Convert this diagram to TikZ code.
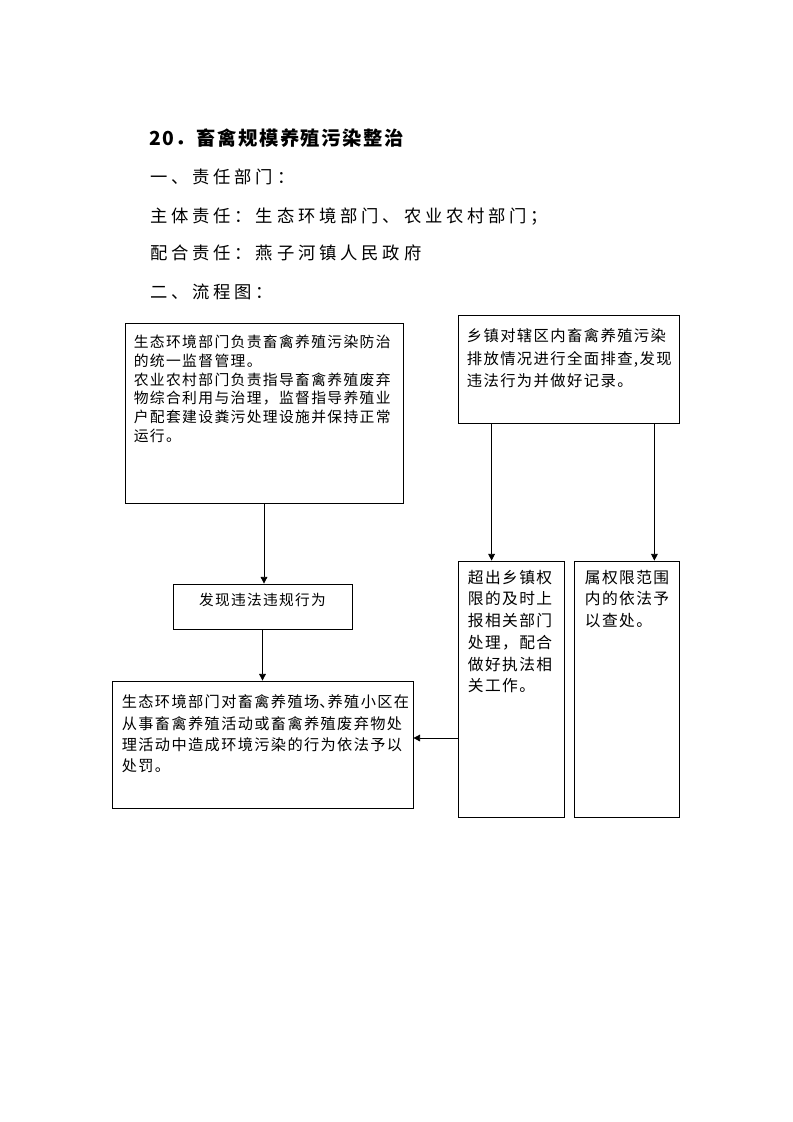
\documentclass[tikz,border=0pt]{standalone}
\usepackage{fontspec}
\setmainfont{Noto Sans CJK SC}[LetterSpace=9]
\newfontfamily\headfont{Noto Sans CJK SC}[LetterSpace=22]
\newfontfamily\titlefont{Noto Sans CJK SC}[LetterSpace=8]
\usepackage{tikz}
\usetikzlibrary{arrows.meta, calc, fit}

\begin{document}
\begin{tikzpicture}[x=0.75pt, y=-0.75pt,
    box/.style={draw, line width=0.6pt, inner sep=0pt},
    txt/.style={anchor=north west, align=left, inner sep=0pt},
    head/.style={anchor=west, inner sep=0pt, font=\headfont\fontsize{13pt}{15pt}\selectfont},
    arr/.style={-{Triangle[length=5pt, width=5pt]}, line width=0.6pt}]
  \useasboundingbox (0,0) rectangle (793,1122);

  \node[anchor=west, inner sep=0pt, font=\titlefont\bfseries\fontsize{14.5pt}{17pt}\selectfont] (title) at (149,138) {20．\kern1pt畜禽规模养殖污染整治};
  \node[head] (h1) at (150,177) {一、责任部门：};
  \node[head] (h2) at (150,217) {主体责任：生态环境部门、农业农村部门；};
  \node[head] (h3) at (150,253) {配合责任：燕子河镇人民政府};
  \node[head] (h4) at (150,292) {二、流程图：};

  \node[box, fit={(125,323) (403,503)}] (A) {};
  \node[box, fit={(458,315) (679,423)}] (B) {};
  \node[box, fit={(173,584) (352,629)}, font=\fontsize{11pt}{13pt}\selectfont] (C) {发现违法违规行为};
  \node[box, fit={(112,681) (413,808)}] (D) {};
  \node[box, fit={(458,561) (564,817)}] (E) {};
  \node[box, fit={(574,561) (679,817)}] (F) {};

  \node[txt, font=\fontsize{11.1pt}{14.1pt}\selectfont] (At) at ($(A.north west)+(9,12)$)
    {生态环境部门负责畜禽养殖污染防治\\的统一监督管理。\\农业农村部门负责指导畜禽养殖废弃\\物综合利用与治理，监督指导养殖业\\户配套建设粪污处理设施并保持正常\\运行。};
  \node[txt, font=\fontsize{11.5pt}{16.9pt}\selectfont] (Bt) at ($(B.north west)+(9,14)$)
    {乡镇对辖区内畜禽养殖污染\\排放情况进行全面排查,发现\\违法行为并做好记录。};
  \node[txt, font=\fontsize{11.4pt}{16pt}\selectfont] (Dt) at ($(D.north west)+(10,14)$)
    {生态环境部门对畜禽养殖场\makebox[0.55em][l]{、}养殖小区在\\从事畜禽养殖活动或畜禽养殖废弃物处\\理活动中造成环境污染的行为依法予以\\处罚。};
  \node[txt, font=\fontsize{11.8pt}{16.3pt}\selectfont] (Et) at ($(E.north west)+(10,9)$)
    {超出乡镇权\\限的及时上\\报相关部门\\处理，配合\\做好执法相\\关工作。};
  \node[txt, font=\fontsize{11.8pt}{16.3pt}\selectfont] (Ft) at ($(F.north west)+(11,9)$)
    {属权限范围\\内的依法予\\以查处。};

  \coordinate (b1) at ($(B.south west)+(34,0)$);
  \coordinate (b2) at ($(B.south east)+(-25,0)$);
  \coordinate (e1) at ($(E.west)+(0,49)$);

  \draw[arr] (A.south) -- (A.south |- C.north);
  \draw[arr] (C.south) -- (C.south |- D.north);
  \draw[arr] (b1) -- (b1 |- E.north);
  \draw[arr] (b2) -- (b2 |- F.north);
  \draw[arr] (e1) -- (e1 -| D.east);
\end{tikzpicture}
\end{document}
